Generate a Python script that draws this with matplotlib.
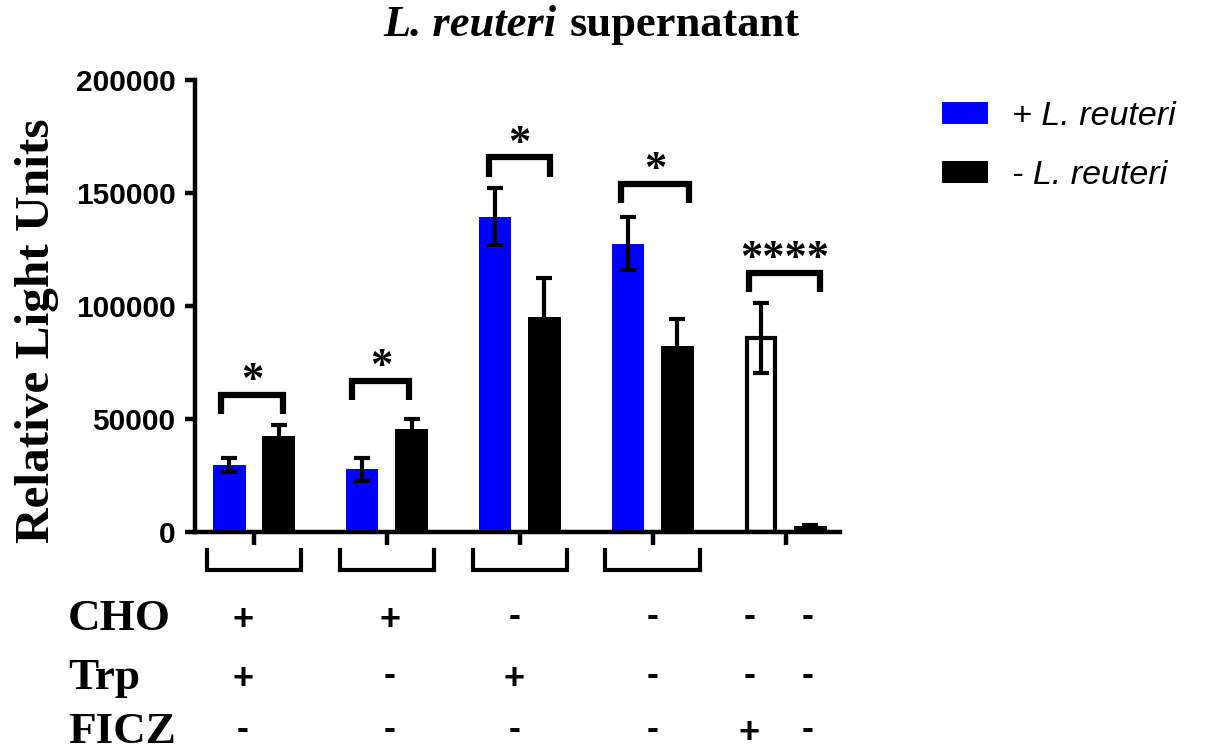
import matplotlib
matplotlib.use("Agg")
import matplotlib.pyplot as plt
import matplotlib.transforms as mtransforms
from matplotlib.patches import Patch
from matplotlib.font_manager import FontProperties
import numpy as np

# values
plus_vals = [29700, 27700, 139500, 127500, 86000]   # blue bars (5th = open bar, FICZ)
plus_err = [3000, 5000, 12500, 11700, 15500]
minus_vals = [42500, 45400, 95300, 82300, 2500]     # black bars
minus_err = [4800, 4500, 17200, 12000, 700]
sig_labels = ['*', '*', '*', '*', '****']
sig_y = [60600, 66800, 165800, 154000, 114700]
yticks = [0, 50000, 100000, 150000, 200000]

row_names = ['CHO', 'Trp', 'FICZ']
row_signs = [['+', '+', '-', '-', '-', '-'],
             ['+', '-', '+', '-', '-', '-'],
             ['-', '-', '-', '-', '+', '-']]

W, H = 1208, 753
fig = plt.figure(figsize=(W / 100, H / 100), dpi=100)
ax = fig.add_axes([195 / W, 1 - 532 / H, (840 - 195) / W, (532 - 80) / H])

x = np.arange(len(plus_vals))
off = 0.186
bw = 0.245

ax.bar(x[:4] - off, plus_vals[:4], bw, color='#0000ff', lw=0)
ax.bar(x[4] - off, plus_vals[4], 0.215, color='white', edgecolor='black', lw=3)
ax.bar(x + off, minus_vals, bw, color='black', lw=0)
ax.errorbar(x - off, plus_vals, yerr=plus_err, fmt='none', ecolor='black',
            elinewidth=3, capsize=5.5, capthick=3)
ax.errorbar(x + off, minus_vals, yerr=minus_err, fmt='none', ecolor='black',
            elinewidth=3, capsize=5.5, capthick=3)

# significance brackets
lefts = [-0.245, -0.26, -0.235, -0.235, -0.275]
rights = [0.22, 0.17, 0.23, 0.27, 0.26]
leg = 8500
for i in range(len(sig_y)):
    xl, xr, y = i + lefts[i], i + rights[i], sig_y[i]
    ax.plot([xl, xl, xr, xr], [y - leg, y, y, y - leg], color='black', lw=4.5,
            solid_joinstyle='miter', solid_capstyle='butt')
    ax.text((xl + xr) / 2, y + 1200, sig_labels[i], ha='center', va='baseline',
            fontsize=32, fontweight='bold', family='Liberation Serif')

# group brackets under the axis
for i in range(4):
    ax.plot([i - 0.355, i - 0.355, i + 0.355, i + 0.355], [-8000, -16800, -16800, -8000],
            color='black', lw=3, clip_on=False, solid_joinstyle='miter')

ax.set_xlim(-0.444, 4.41)
ax.set_ylim(0, 200000)
ax.set_yticks(yticks)
ax.set_yticklabels([str(v) for v in yticks], fontsize=21.5, fontweight='bold',
                   family='Liberation Sans')
ax.set_xticks(x)
ax.set_xticklabels([])
for s in ['top', 'right']:
    ax.spines[s].set_visible(False)
for s in ['left', 'bottom']:
    ax.spines[s].set_linewidth(3.2)
ax.tick_params(axis='y', width=3.2, length=7, pad=7)
ax.tick_params(axis='x', width=3.2, length=9.5)

fig.text(37 / W, 1 - 331 / H, 'Relative Light Units', rotation=90, ha='center', va='center',
         fontsize=35.5, fontweight='bold', family='Liberation Serif')

# title: italic species name + bold word
ty = 1 - 36 / H
t1 = fig.text(0, ty, 'L. reuteri', fontsize=32, fontweight='bold', style='italic',
              family='Liberation Serif', va='baseline')
t2 = fig.text(0, ty, 'supernatant', fontsize=32, fontweight='bold',
              family='Liberation Serif', va='baseline')
r = fig.canvas.get_renderer()
w1 = t1.get_window_extent(r).width
w2 = t2.get_window_extent(r).width
gap = 32 * 100 / 72 * 0.3
x0 = 591.5 - (w1 + gap + w2) / 2
t1.set_x(x0 / W)
t2.set_x((x0 + w1 + gap) / W)

# legend
ax.legend(handles=[Patch(fc='#0000ff', label='+ L. reuteri'),
                   Patch(fc='black', label='- L. reuteri')],
          loc='upper left', bbox_to_anchor=(942 / W, 1 - 101 / H), bbox_transform=fig.transFigure,
          frameon=False, prop=FontProperties(family='Liberation Sans', style='italic', size=24.5),
          handlelength=1.35, handleheight=0.65, handletextpad=0.7, labelspacing=0.82,
          borderaxespad=0, borderpad=0)

# treatment table under the chart
row_centers = [617, 676, 730]
col_x = [-0.083, 1.024, 1.959, 2.998, 3.729, 4.166]
trans = mtransforms.blended_transform_factory(ax.transData, fig.transFigure)
for name, signs, yc in zip(row_names, row_signs, row_centers):
    fig.text(68 / W, 1 - (yc + 13) / H, name, ha='left', va='baseline',
             fontsize=32.5, fontweight='bold', family='Liberation Serif')
    for cx, sg in zip(col_x, signs):
        dy = 12.7 if sg == '+' else 9.4
        ax.text(cx, 1 - (yc + dy) / H, sg, transform=trans, ha='center', va='baseline',
                fontsize=26, fontweight='bold', family='Liberation Sans', clip_on=False)

fig.savefig('out.png', dpi=100)
